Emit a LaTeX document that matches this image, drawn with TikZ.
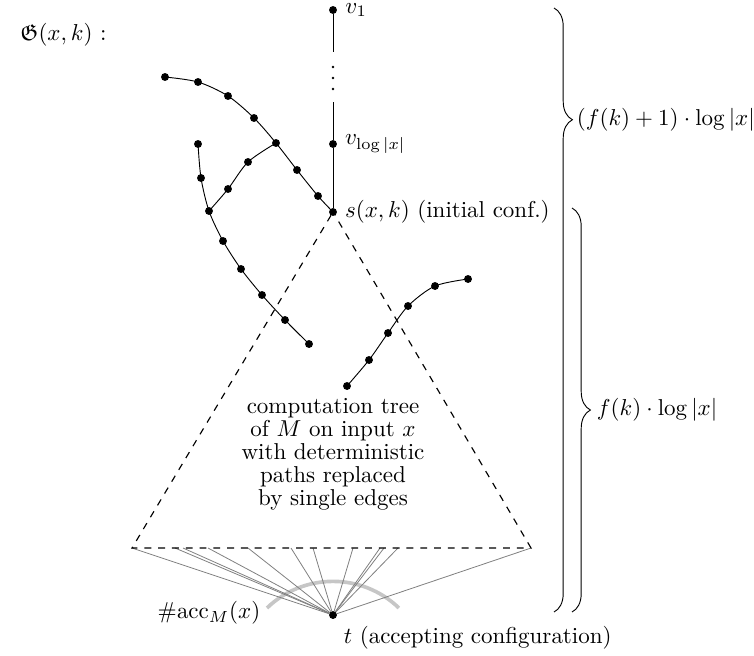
\documentclass[tikz,border=0pt]{standalone}
\usepackage{amsmath,amssymb}
\usepackage{tikz}
\usetikzlibrary{decorations.pathreplacing}

\begin{document}
\begin{tikzpicture}[x=0.435pt, y=-0.435pt, dot/.style = {circle, draw, fill, minimum size=3pt, inner sep=0pt}, smalldot/.style = {circle, fill, minimum size=1.2pt, inner sep=0pt}, fanedge/.style = {gray, line width=0.35pt}, accarc/.style = {gray!45, line width=1.6pt}, sizebrace/.style = {decorate, decoration={brace, amplitude=8pt}}]

\useasboundingbox (0,0) rectangle (754,655);

\node[anchor=west, inner sep=0pt] (G) at (20,35) {$\mathfrak{G}(x,k)$ :};

% chain above the initial configuration
\node[dot, label={[inner sep=0pt, label distance=3.5pt]right:{$v_1$}}] (v1) at (333,10) {};
\node[dot, label=right:{$v_{\log|x|}$}] (vl) at (333,144) {};
\node[dot, label=right:{$s(x,k)$ (initial conf.)}] (s) at (333,212) {};
\foreach \py [count=\i] in {67,78,89}
  \node[smalldot] (p\i) at (333,\py) {};
\coordinate (v1e) at (333,52);
\coordinate (vle) at (333,102);

% deterministic paths
\node[dot] (a1) at (165,77) {};
\node[dot] (a2) at (198,82) {};
\node[dot] (a3) at (228,96) {};
\node[dot] (a4) at (254,118) {};
\node[dot] (a5) at (276,143) {};
\node[dot] (a6) at (297,170) {};
\node[dot] (a7) at (318,196) {};
\node[dot] (b1) at (248,162) {};
\node[dot] (b2) at (228,189) {};
\node[dot] (c1) at (198,144) {};
\node[dot] (c2) at (201,178) {};
\node[dot] (c3) at (209,211) {};
\node[dot] (c4) at (223,241) {};
\node[dot] (c5) at (241,269) {};
\node[dot] (c6) at (262,295) {};
\node[dot] (c7) at (285,320) {};
\node[dot] (c8) at (309,344) {};
\node[dot] (d1) at (347,386) {};
\node[dot] (d2) at (369,360) {};
\node[dot] (d3) at (388,333) {};
\node[dot] (d4) at (408,306) {};
\node[dot] (d5) at (435,286) {};
\node[dot] (d6) at (468,279) {};

\node[dot, label=below right:{$t$ (accepting configuration)}] (t) at (333,615) {};
\node (acc) at (209,613) {$\#\mathrm{acc}_M(x)$};

\node[align=center] (tree) at (333,454) {computation tree\\[-2pt] of $M$ on input $x$\\[-2pt] with deterministic\\[-2pt] paths replaced\\[-2pt] by single edges};

\foreach \bx [count=\i] in {132,175,183,208,248,291,313,353,380,384,398,531}
  \coordinate (e\i) at (\bx,548);

\draw (v1) -- (v1e);
\draw (vle) -- (vl) -- (s);
\draw plot[smooth] coordinates {(a1) (a2) (a3) (a4) (a5) (a6) (a7) (s)};
\draw plot[smooth] coordinates {(a5) (b1) (b2) (c3)};
\draw plot[smooth] coordinates {(c1) (c2) (c3) (c4) (c5) (c6) (c7) (c8)};
\draw plot[smooth] coordinates {(d1) (d2) (d3) (d4) (d5) (d6)};

\draw[accarc] (267,608) arc[start angle=134, end angle=46, radius=41.3pt];
\foreach \i in {1,...,12}
  \draw[fanedge] (t) -- (e\i);
\draw[dashed, line width=0.5pt] (s) -- (e1) -- (e12) -- (s);

% height braces
\coordinate (o1) at (554,8);
\coordinate (o2) at (554,612);
\coordinate (i1) at (572,208);
\coordinate (i2) at (572,612);
\draw[sizebrace, decoration={aspect=0.185}] (o1) -- (o2);
\draw[sizebrace] (i1) -- (i2);
\node[anchor=west, inner sep=1.5pt] (hl) at (573,120) {$(f(k)+1)\cdot\log|x|$};
\node[anchor=west, inner sep=1.5pt] (hs) at (593,410) {$f(k)\cdot\log|x|$};
\end{tikzpicture}
\end{document}
